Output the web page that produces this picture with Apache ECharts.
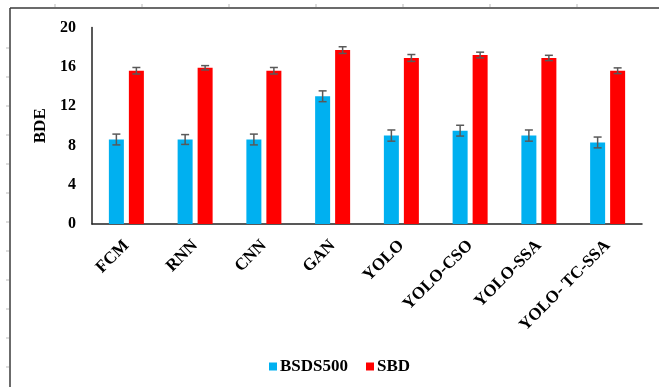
<!DOCTYPE html>
<html><head><meta charset="utf-8">
<script src="https://cdn.jsdelivr.net/npm/echarts@6/dist/echarts.min.js"></script>
<style>html,body{margin:0;padding:0;background:#fff}#c{width:659px;height:387px}</style>
</head><body><div id="c"></div>
<script>
const categories = ['FCM','RNN','CNN','GAN','YOLO','YOLO-CSO','YOLO-SSA','YOLO- TC-SSA'];
const bsds500 = [8.6, 8.6, 8.6, 13.0, 9.0, 9.5, 9.0, 8.3];
const sbd = [15.6, 15.9, 15.6, 17.7, 16.9, 17.2, 16.9, 15.6];
const bsds500Err = [0.55, 0.5, 0.55, 0.55, 0.57, 0.55, 0.57, 0.55];
const sbdErr = [0.33, 0.22, 0.33, 0.34, 0.35, 0.29, 0.27, 0.29];
const yTicks = [0, 4, 8, 12, 16, 20];

const BAR_W = 15, GAP = 5;
const font = '"Liberation Serif", "Times New Roman", serif';

function errData(vals, errs){ return vals.map((v,i)=>[i, v-errs[i], v+errs[i]]); }
function errRender(offset){
  return function(params, api){
    const x = api.value(0);
    const lo = api.coord([x, api.value(1)]);
    const hi = api.coord([x, api.value(2)]);
    const cx = lo[0] + offset;
    const st = {stroke:'#595959', lineWidth:1.5};
    return {type:'group', children:[
      {type:'line', shape:{x1:cx,y1:lo[1],x2:cx,y2:hi[1]}, style:st},
      {type:'line', shape:{x1:cx-4,y1:lo[1],x2:cx+4,y2:lo[1]}, style:st},
      {type:'line', shape:{x1:cx-4,y1:hi[1],x2:cx+4,y2:hi[1]}, style:st}
    ]};
  };
}

const graphics = [
  {type:'line', shape:{x1:10,y1:8,x2:659,y2:8}, style:{stroke:'#3a3a3a', lineWidth:1.5}},
  {type:'line', shape:{x1:10,y1:8,x2:10,y2:387}, style:{stroke:'#3a3a3a', lineWidth:1.5}}
];
[55,142,229,316,403,490,577].forEach(x=>graphics.push({type:'line', shape:{x1:x,y1:4,x2:x,y2:7}, style:{stroke:'#bbb', lineWidth:1}}));
[48,77,106,135,164,193,222,251,280,309,338,367].forEach(y=>graphics.push({type:'line', shape:{x1:6,y1:y,x2:9,y2:y}, style:{stroke:'#bbb', lineWidth:1}}));

const chart = echarts.init(document.getElementById('c'));
chart.setOption({
  animation:false,
  graphic: graphics,
  grid:{left:92, right:17, top:27.5, bottom:163},
  legend:{
    left:264, top:353, itemWidth:8, itemHeight:8, itemGap:18,
    textStyle:{fontFamily:font, fontWeight:'bold', fontSize:17, color:'#000', padding:[0,0,0,-2]},
    data:[{name:'BSDS500', icon:'rect'},{name:'SBD', icon:'rect'}]
  },
  xAxis:{
    type:'category', data:categories,
    axisLine:{lineStyle:{color:'#222', width:1.5}},
    axisTick:{show:false},
    axisLabel:{rotate:45, margin:19, interval:0, fontFamily:font, fontWeight:'bold', fontSize:17, color:'#000'}
  },
  yAxis:{
    type:'value', min:yTicks[0], max:yTicks[yTicks.length-1], interval:4,
    name:'BDE', nameLocation:'middle', nameGap:43, nameRotate:90,
    nameTextStyle:{fontFamily:font, fontWeight:'bold', fontSize:17, color:'#000'},
    axisLine:{show:true, lineStyle:{color:'#222', width:1.5}},
    axisTick:{show:false}, splitLine:{show:false},
    axisLabel:{margin:16, fontFamily:font, fontWeight:'bold', fontSize:16, color:'#000'}
  },
  series:[
    {name:'BSDS500', type:'bar', data:bsds500, barWidth:BAR_W, barGap:(GAP/BAR_W*100)+'%', itemStyle:{color:'#00B0F0'}},
    {name:'SBD', type:'bar', data:sbd, barWidth:BAR_W, barGap:(GAP/BAR_W*100)+'%', itemStyle:{color:'#FF0000'}},
    {type:'custom', renderItem:errRender(-(BAR_W+GAP)/2), data:errData(bsds500,bsds500Err), z:5, silent:true},
    {type:'custom', renderItem:errRender((BAR_W+GAP)/2), data:errData(sbd,sbdErr), z:5, silent:true}
  ]
});
</script></body></html>
